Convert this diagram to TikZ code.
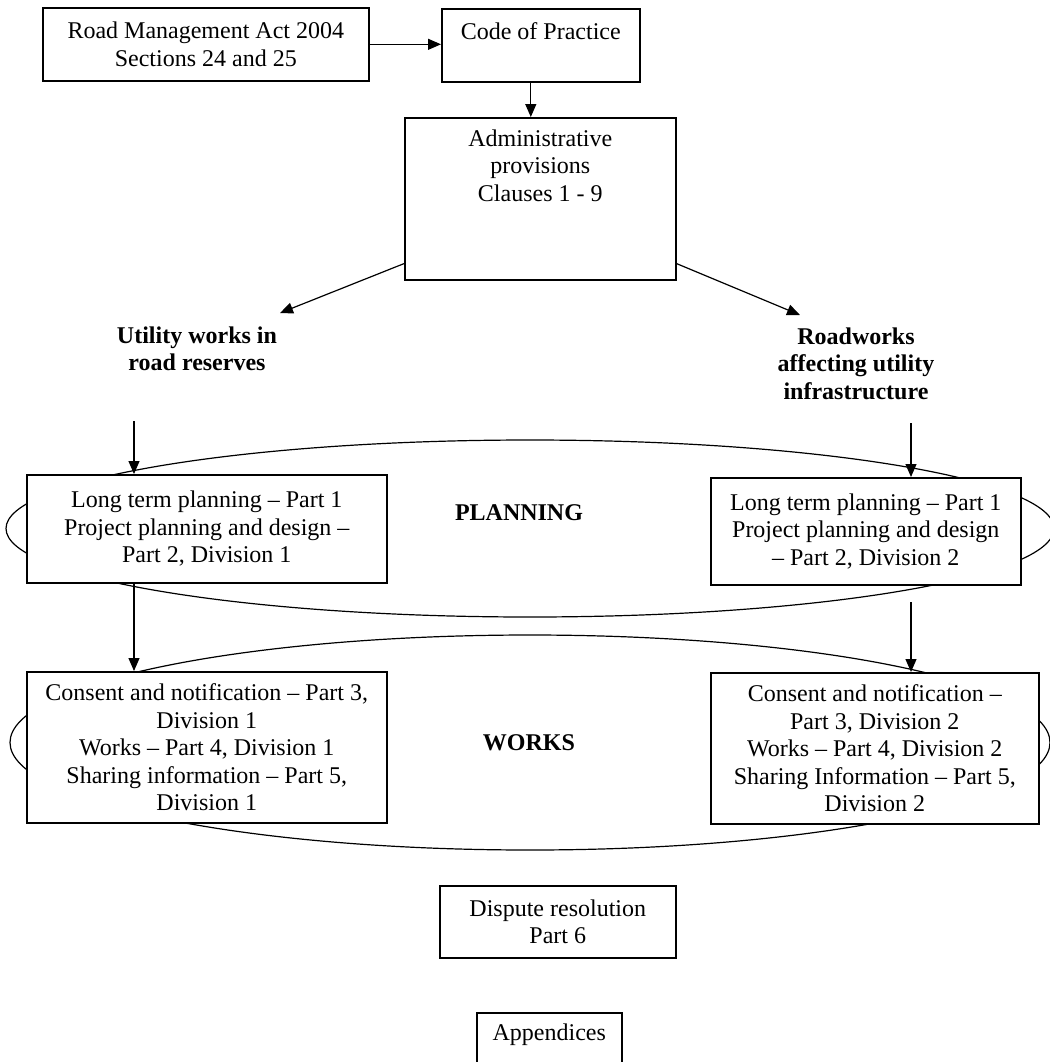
\documentclass[tikz,border=0pt]{standalone}
\usepackage{fontspec}
\setmainfont{Liberation Serif}
\usetikzlibrary{arrows.meta}

\begin{document}
\begin{tikzpicture}[x=0.5pt, y=-0.5pt,
  font=\fontsize{12}{13.8}\selectfont,
  box/.style={draw, fill=white, line width=0.8pt, inner sep=0pt, anchor=north west, align=center},
  txt/.style={inner sep=0pt, align=center},
  head/.style={txt, font=\fontsize{12}{13.8}\selectfont\bfseries},
  arr/.style={line width=0.6pt, -{Triangle[length=6.5pt, width=5.5pt]}},
  loop/.style={line width=0.6pt}]
  \useasboundingbox (0,0) rectangle (1050,1062);
  \clip (0,0) rectangle (1050,1062);
  % the two rings behind the boxes
  \draw[loop] (530,528.5) ellipse [x radius=262pt, y radius=44.25pt];
  \draw[loop] (530,742.5) ellipse [x radius=260pt, y radius=53.75pt];
  % act, code and administrative provisions
  \node[box, minimum width=163pt, minimum height=36.5pt] (act) at (42,7) {Road Management Act 2004\\Sections 24 and 25};
  \node[box, minimum width=99pt, minimum height=36.5pt] (code) at (441,8) {};
  \node[txt, anchor=north] (codetxt) at ([yshift=-7pt]code.north) {Code of Practice};
  \node[box, minimum width=135.5pt, minimum height=81pt] (admin) at (404,117) {};
  \node[txt, anchor=north] (admintxt) at ([yshift=-6pt]admin.north) {Administrative\\provisions\\Clauses 1 - 9};
  % the two headings
  \node[head, anchor=north] (util) at (197,326) {Utility works in\\road reserves};
  \node[head, anchor=north] (road) at (856,327) {Roadworks\\affecting utility\\infrastructure};
  % planning boxes
  \node[box, minimum width=180pt, minimum height=54pt] (planL) at (26,474) {Long term planning – Part 1\\Project planning and design –\\Part 2, Division 1};
  \node[box, minimum width=155pt, minimum height=53.5pt] (planR) at (710,477) {Long term planning – Part 1\\Project planning and design\\– Part 2, Division 2};
  \node[head] (plan) at (519,513) {PLANNING};
  % works boxes
  \node[box, minimum width=180pt, minimum height=75.5pt] (workL) at (26,671) {Consent and notification – Part 3,\\Division 1\\Works – Part 4, Division 1\\Sharing information – Part 5,\\Division 1};
  \node[box, minimum width=164pt, minimum height=75.5pt] (workR) at (710,672) {Consent and notification –\\Part 3, Division 2\\Works – Part 4, Division 2\\Sharing Information – Part 5,\\Division 2};
  \node[head] (works) at (529,743) {WORKS};
  % dispute resolution and appendices
  \node[box, minimum width=118pt, minimum height=36pt] (dispute) at (439,885) {Dispute resolution\\Part 6};
  \node[box, minimum width=72.5pt, minimum height=28pt] (app) at (476,1012) {};
  \node[txt, anchor=north] (apptxt) at ([yshift=-5.75pt]app.north) {Appendices};
  % free arrow ends
  \coordinate (utilTip) at (280,313);
  \coordinate (roadTip) at (800,315);
  \coordinate (utilEnd) at (134,421);
  \coordinate (roadEnd) at (911,423);
  \coordinate (roadGap) at (911,602);
  % arrows
  \draw[arr] (act.east) -- (act.east -| code.west);
  \draw[arr] ([xshift=-5pt]code.south) -- ([xshift=-5pt]code.south |- admin.north);
  \draw[arr] ([yshift=8.5pt]admin.south west) -- (utilTip);
  \draw[arr] ([yshift=8.5pt]admin.south east) -- (roadTip);
  \draw[arr] (utilEnd) -- (utilEnd |- planL.north);
  \draw[arr] (roadEnd) -- (roadEnd |- planR.north);
  \draw[arr] (utilEnd |- planL.south) -- (utilEnd |- workL.north);
  \draw[arr] (roadGap) -- (roadGap |- workR.north);
\end{tikzpicture}
\end{document}
